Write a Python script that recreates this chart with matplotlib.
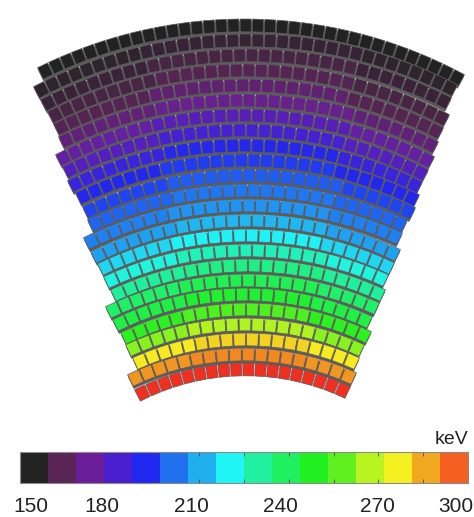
#!/usr/bin/env python3
# Fan shaped detector map, energy per crystal, with stepped colour bar below

import numpy as np
import matplotlib.pyplot as plt
from matplotlib.collections import PolyCollection
from matplotlib.colors import LinearSegmentedColormap, ListedColormap, BoundaryNorm, Normalize

plt.rcParams['font.family'] = ['Liberation Sans', 'DejaVu Sans']

## chart values, row 1 is the outer row
rowCentreKev = [152, 158, 161, 164, 168, 172, 179, 184, 191, 195, 199, 203,
                207, 212, 220, 227, 234, 241, 246, 255, 266, 280, 290, 303]
rowSideKev = [152, 157, 159, 161, 164, 169, 175, 180, 187, 192, 196, 200,
              204, 209, 216, 223, 231, 238, 243, 250, 262, 277, 288, 303]
rowCells = [36, 35, 34, 33, 32, 31, 31, 30, 29, 28, 27, 26,
            26, 25, 24, 23, 22, 22, 21, 20, 19, 18, 18, 18]
barColours = ['#232323', '#5a2456', '#6a1f98', '#4a1fd0', '#2028f0', '#2070f0',
              '#20b0f0', '#20f5f5', '#20f0a0', '#20f060', '#20f020', '#60f020',
              '#b8f520', '#f5f020', '#f0a820', '#f56020']
tickLabels = [150, 180, 210, 240, 270, 300]

## detector layout in picture pixels, one entry per row
leftX = [37, 33, 40, 47, 53, 58, 55, 62, 67, 75, 82, 87,
         83, 90, 97, 103, 110, 105, 112, 120, 125, 132, 127, 134]
leftY = [68, 87, 100, 112, 124, 137, 155, 167, 181, 193, 207, 220,
         238, 252, 264, 277, 290, 307, 320, 333, 345, 358, 375, 390]
rightX = [465, 458, 452, 450, 444, 439, 435, 429, 423, 420, 416, 408,
          403, 401, 395, 389, 386, 380, 373, 372, 365, 360, 357, 351]
rightY = [75, 85, 98, 115, 128, 142, 157, 170, 182, 195, 208, 220,
          233, 250, 263, 275, 290, 303, 317, 332, 345, 358, 373, 387]
apexY = [19, 34, 49, 64, 79, 94, 109, 124, 139, 154, 169, 184,
         199, 214, 229, 244, 259, 274, 288, 303, 318, 333, 348, 363]
apexX = 243
cellDepth = 12.8
cellGap = 1.2
backDepth = 15.5

# colour bar bin edges
barEdges = np.linspace(150, 300, len(barColours) + 1)
barCentres = (barEdges[:-1] + barEdges[1:]) / 2

# the crystals use a smooth version of the bar colours, red sits above the bar range
vmin = 150.0
vmax = 306.0
knots = [0.0] + list((barCentres - vmin) / (vmax - vmin)) + [1.0]
knotColours = ['#222222'] + barColours + ['#ee2020']
smooth = LinearSegmentedColormap.from_list('kevSmooth', list(zip(knots, knotColours)))


def circleThrough(p1, p2, p3):
	a = np.array([[p2[0] - p1[0], p2[1] - p1[1]], [p3[0] - p1[0], p3[1] - p1[1]]]) * 2.0
	b = np.array([p2[0]**2 + p2[1]**2 - p1[0]**2 - p1[1]**2,
	              p3[0]**2 + p3[1]**2 - p1[0]**2 - p1[1]**2])
	return np.linalg.solve(a, b)


def polar(centre, radius, angle):
	return (centre[0] + radius * np.sin(angle), centre[1] - radius * np.cos(angle))


cells = []
values = []
bands = []
for row in range(len(rowCells)):
	L = (leftX[row], leftY[row])
	R = (rightX[row], rightY[row])
	centre = circleThrough(L, (apexX, apexY[row]), R)
	radius = np.hypot(L[0] - centre[0], L[1] - centre[1])
	startAngle = np.arctan2(L[0] - centre[0], centre[1] - L[1])
	endAngle = np.arctan2(R[0] - centre[0], centre[1] - R[1])
	edges = np.linspace(startAngle, endAngle, rowCells[row] + 1)
	shrink = (cellGap / 2) / radius
	n = rowCells[row]

	# grey strip behind the row so no white shows between rows
	if row < len(rowCells) - 1:
		outer = [polar(centre, radius - 2, a) for a in edges]
		inner = [polar(centre, radius - backDepth, a) for a in edges[::-1]]
		bands.append(outer + inner)

	for j in range(n):
		a0 = edges[j] + shrink
		a1 = edges[j + 1] - shrink
		r0 = radius
		r1 = radius - cellDepth
		cells.append([polar(centre, r0, a0), polar(centre, r0, a1),
		              polar(centre, r1, a1), polar(centre, r1, a0)])
		# outer quarter on both sides reads a little lower
		if j < n / 4 or j >= n - n / 4:
			values.append(rowSideKev[row])
		else:
			values.append(rowCentreKev[row])

fig = plt.figure(figsize=(4.74, 5.17), dpi=100)
ax = fig.add_axes([0, 0, 1, 1])
ax.set_xlim(0, 474)
ax.set_ylim(517, 0)
ax.axis('off')

ax.add_collection(PolyCollection(bands, facecolors='#5c5c5c', edgecolors='none', zorder=1))
crystals = PolyCollection(cells, array=np.array(values, dtype=float), cmap=smooth,
                          norm=Normalize(vmin, vmax), edgecolors='#5c5c5c', linewidths=0.5, zorder=2)
ax.add_collection(crystals)

# colour bar
cax = fig.add_axes([20 / 474, 1 - 483 / 517, 448 / 474, 31 / 517])
cax.pcolormesh(barEdges, [0, 1], [barCentres], cmap=ListedColormap(barColours),
               norm=BoundaryNorm(barEdges, len(barColours)))
cax.set_xlim(150, 300)
cax.set_ylim(0, 1)
cax.set_yticks([])
cax.set_xticks(np.arange(150, 301, 15))
cax.tick_params(axis='x', direction='in', length=3, width=0.6, color='#444444',
                top=True, bottom=True, labelbottom=False)
for side in cax.spines.values():
	side.set_color('#8a8a8a')
	side.set_linewidth(0.8)

# the labels sit a little off their ticks in the original
labelShift = [11, -8, -8, -8, -1, -12]
for value, shift in zip(tickLabels, labelShift):
	cax.annotate(str(value), xy=(value, 0), xycoords=('data', 'axes fraction'),
	             xytext=(shift, -24), textcoords='offset pixels', ha='center', va='center',
	             fontsize=15, color='#222222', annotation_clip=False)
cax.annotate('keV', xy=(1, 1), xycoords='axes fraction', xytext=(0, 13),
             textcoords='offset pixels', ha='right', va='center', fontsize=14,
             color='#222222', annotation_clip=False)

fig.savefig('out.png', dpi=100)
